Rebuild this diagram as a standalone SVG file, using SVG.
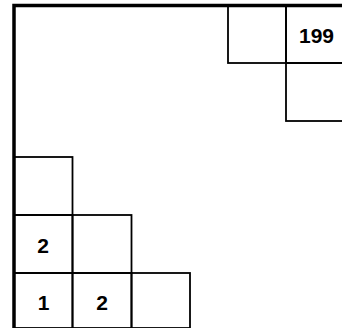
<svg xmlns="http://www.w3.org/2000/svg" width="342" height="328" viewBox="0 0 342 328">
<style>
.cell{fill:none;stroke:#000;stroke-width:1.8}
.frame{fill:none;stroke:#000;stroke-width:3.5}
.lbl{font-family:"Liberation Sans",Arial,sans-serif;font-weight:bold;font-size:21px;fill:#000;text-anchor:middle}
</style>
<rect width="342" height="328" fill="#fff"/>
<g id="cell-top-left"><rect class="cell" x="228" y="5" width="58" height="58"/></g>
<g id="cell-199"><rect class="cell" x="286" y="5" width="60" height="58"/><text class="lbl" x="316.5" y="43.3">199</text></g>
<g id="cell-top-below"><rect class="cell" x="286" y="63" width="60" height="58"/></g>
<g id="cell-r3c1"><rect class="cell" x="14" y="157" width="58.5" height="58"/></g>
<g id="cell-r2c1"><rect class="cell" x="14" y="215" width="58.5" height="58"/><text class="lbl" x="43" y="252.5">2</text></g>
<g id="cell-r2c2"><rect class="cell" x="72.5" y="215" width="59" height="58"/></g>
<g id="cell-r1c1"><rect class="cell" x="14" y="273" width="58.5" height="55"/><text class="lbl" x="43.5" y="309.5">1</text></g>
<g id="cell-r1c2"><rect class="cell" x="72.5" y="273" width="59" height="55"/><text class="lbl" x="102" y="309.5">2</text></g>
<g id="cell-r1c3"><rect class="cell" x="131.5" y="273" width="58.5" height="55"/></g>
<g id="frame"><path class="frame" d="M14 330 V5.5 H344"/></g>
</svg>
